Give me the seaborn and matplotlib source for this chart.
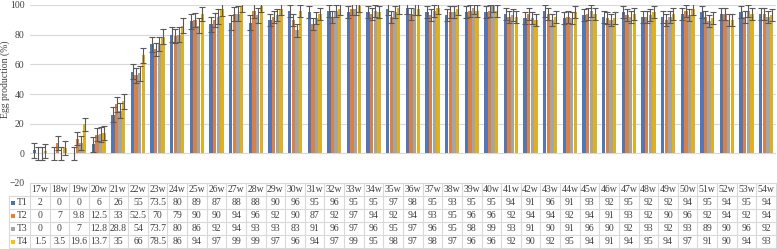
import numpy as np
import pandas as pd
import matplotlib
matplotlib.use("Agg")
import matplotlib.pyplot as plt
import seaborn as sns

weeks = [f"{w}w" for w in range(17, 55)]
series = ["T1", "T2", "T3", "T4"]
colors = ["#4472C4", "#ED7D31", "#A5A5A5", "#FFC000"]

t1 = [2, 0, 0, 6, 26, 55, 73.5, 80, 89, 87, 88, 88,
      90, 96, 95, 96, 95, 95, 97, 98, 95, 93, 95, 95, 94,
      91, 96, 91, 93, 92, 95, 92, 92, 94, 95, 94, 95, 94]
t2 = [0, 7, 9.8, 12.5, 33, 52.5, 70, 79, 90, 90, 94, 96,
      92, 90, 87, 92, 97, 94, 92, 94, 93, 95, 96, 96, 92,
      94, 94, 92, 94, 91, 93, 92, 90, 96, 92, 94, 92, 94]
t3 = [0, 0, 7, 12.8, 28.8, 54, 73.7, 80, 86, 92, 94, 93,
      93, 83, 91, 96, 97, 96, 95, 97, 96, 95, 98, 99, 93,
      91, 90, 91, 96, 90, 92, 93, 92, 93, 89, 90, 96, 92]
t4 = [1.5, 3.5, 19.6, 13.7, 35, 66, 78.5, 86, 94, 97, 99, 99,
      97, 96, 94, 97, 99, 95, 98, 97, 98, 97, 96, 96, 92,
      90, 92, 95, 94, 91, 94, 95, 94, 97, 91, 90, 94, 93]

# error bar half-widths (roughly +-4..5 everywhere)
e1 = [5, 4.5, 4.5, 5, 5, 5, 5, 5, 5, 5, 5, 5,
      4, 4, 4, 4, 4, 4, 4, 4, 4, 4, 4, 4, 4,
      4, 4, 4, 4, 4, 4, 4, 4, 4, 4, 4, 4, 4]
e2 = [4.5, 4.5, 4.5, 4.5, 5, 5, 4.5, 4.5, 4.5, 4.5, 4.5, 4.5,
      4, 4, 4, 4, 4, 4, 4, 4, 4, 4, 4, 4, 4,
      4, 4, 4, 4, 4, 4, 4, 4, 4, 4, 4, 4, 4]
e3 = [4.5, 4.5, 5, 5, 5, 5, 5, 5, 5, 5, 5, 5,
      4, 4.5, 4, 4, 4, 4, 4, 4, 4, 4, 4, 4, 4,
      4, 4, 4, 4, 4, 4, 4, 4, 4, 4, 4, 4, 4]
e4 = [4.5, 4.5, 4.5, 4.5, 5, 5, 5, 5, 4.5, 4.5, 4, 4,
      4, 4, 4, 4, 4, 4, 4, 4, 4, 4, 4, 4, 4,
      4, 4, 4, 4, 4, 4, 4, 4, 4, 4, 4, 4, 4]

values = [t1, t2, t3, t4]
errs = [e1, e2, e3, e4]

sns.set_theme(style="white")
plt.rcParams["font.family"] = ["Liberation Serif", "DejaVu Serif"]

df = pd.DataFrame({
    "week": weeks * 4,
    "group": np.repeat(series, len(weeks)),
    "value": t1 + t2 + t3 + t4,
})

fig = plt.figure(figsize=(7.77, 2.49), dpi=100)
ax = fig.add_axes([30 / 777, 66 / 249, 746 / 777, 178 / 249])
sns.barplot(data=df, x="week", y="value", hue="group", palette=colors,
            errorbar=None, width=0.74, gap=0.08, linewidth=0, ax=ax,
            legend=False, zorder=2)

for cont, e in zip(ax.containers, errs):
    xs = [p.get_x() + p.get_width() / 2 for p in cont]
    ys = [p.get_height() for p in cont]
    ax.errorbar(xs, ys, yerr=e, fmt="none", ecolor="#595959",
                elinewidth=0.8, capsize=2, capthick=0.8, zorder=3)

ax.set_xlim(-0.5, len(weeks) - 0.5)
ax.set_ylim(-20, 100)
ax.set_yticks(range(-20, 101, 20))
ax.yaxis.grid(True, color="#D9D9D9", lw=0.8, zorder=0)
ax.set_axisbelow(True)
ax.set_xticks([])
ax.set_xlabel("")
for sp in ax.spines.values():
    sp.set_visible(False)
ax.tick_params(axis="y", length=0, labelsize=7, pad=4, colors="#404040")
ax.set_ylabel("Egg production (%)", fontsize=7, color="#404040")
ax.yaxis.set_label_coords(-0.027, 70 / 120)

# data table under the chart
tax = fig.add_axes([30 / 777, 1 / 249, 746 / 777, 65 / 249])
n = len(weeks)
tax.set_xlim(-0.5, n - 0.5)
tax.set_ylim(5, 0)
tax.axis("off")
gc = "#D9D9D9"
lab_left = -0.5 - 21 / (746 / n)
for r in range(6):
    x0 = -0.5 if r == 0 else lab_left
    tax.plot([x0, n - 0.5], [r, r], color=gc, lw=0.8, clip_on=False)
for i in range(n + 1):
    tax.plot([i - 0.5, i - 0.5], [0, 5], color=gc, lw=0.8, clip_on=False)
tax.plot([lab_left, lab_left], [1, 5], color=gc, lw=0.8, clip_on=False)

for i, w in enumerate(weeks):
    tax.text(i, 0.5, w, ha="center", va="center", fontsize=7, color="#404040")
for r, (s, c, vals) in enumerate(zip(series, colors, values), start=1):
    tax.scatter([lab_left + 0.2], [r + 0.5], marker="s", s=5, color=c,
                linewidths=0, clip_on=False)
    tax.text(lab_left + 0.42, r + 0.5, s, ha="left", va="center", fontsize=7,
             color="#404040", clip_on=False)
    for i, v in enumerate(vals):
        tax.text(i, r + 0.5, f"{v:g}", ha="center", va="center", fontsize=7,
                 color="#404040")

fig.savefig("out.png", dpi=100)
